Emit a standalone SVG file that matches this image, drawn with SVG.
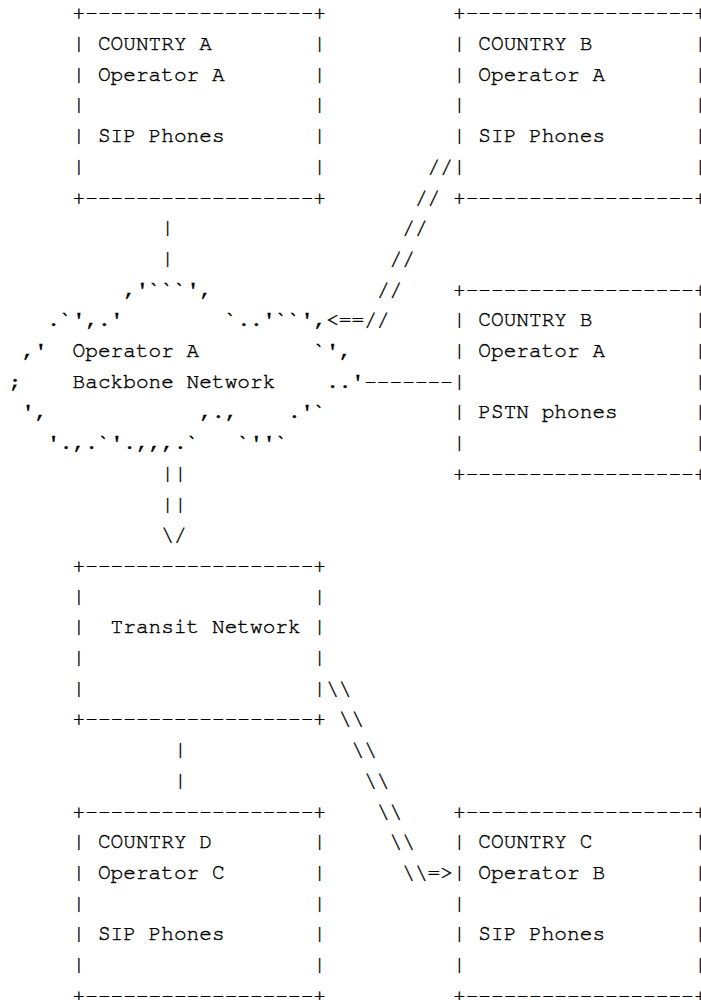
<svg xmlns="http://www.w3.org/2000/svg" width="701" height="1000" viewBox="0 0 701 1000" xml:space="preserve">
<style>
text { font-family: "Nimbus Mono PS", "FreeMono", "Liberation Mono", "Courier New", monospace; font-size: 21.13px; fill: #000; stroke: #000; stroke-width: 0.4px; white-space: pre; }
</style>
<rect width="701" height="1000" fill="#fff"/>
<g id="countryA">
<text x="72.56" y="19.3">+------------------+</text>
<text x="72.56" y="50.0">| COUNTRY A        |</text>
<text x="72.56" y="80.7">| Operator A       |</text>
<text x="72.56" y="111.4">|                  |</text>
<text x="72.56" y="142.1">| SIP Phones       |</text>
<text x="72.56" y="172.8">|                  |</text>
<text x="72.56" y="203.5">+------------------+</text>
</g>
<g id="countryB-sip">
<text x="452.96" y="19.3">+------------------</text>
<text x="452.96" y="50.0">| COUNTRY B</text>
<text x="452.96" y="80.7">| Operator A</text>
<text x="452.96" y="111.4">|</text>
<text x="452.96" y="142.1">| SIP Phones</text>
<text x="452.96" y="172.8">|</text>
<text x="452.96" y="203.5">+------------------</text>
<text x="693.88" y="19.3">+</text>
<text x="693.88" y="50.0">|</text>
<text x="693.88" y="80.7">|</text>
<text x="693.88" y="111.4">|</text>
<text x="693.88" y="142.1">|</text>
<text x="693.88" y="172.8">|</text>
<text x="693.88" y="203.5">+</text>
</g>
<g id="backbone">
<text x="123.28" y="295.6">,'```',</text>
<text x="47.2" y="326.3">.`',.'</text>
<text x="224.72" y="326.3">`..'``',</text>
<text x="21.84" y="357.0">,'</text>
<text x="72.56" y="357.0">Operator A</text>
<text x="313.48" y="357.0">`',</text>
<text x="9.16" y="387.7">;</text>
<text x="72.56" y="387.7">Backbone Network</text>
<text x="326.16" y="387.7">..'</text>
<text x="21.84" y="418.4">',</text>
<text x="199.36" y="418.4">,.,</text>
<text x="288.12" y="418.4">.'`</text>
<text x="47.2" y="449.1">'.,.`'.,,,.`</text>
<text x="237.4" y="449.1">`''`</text>
</g>
<g id="countryB-pstn">
<text x="452.96" y="295.6">+------------------</text>
<text x="452.96" y="326.3">| COUNTRY B</text>
<text x="452.96" y="357.0">| Operator A</text>
<text x="452.96" y="387.7">|</text>
<text x="452.96" y="418.4">| PSTN phones</text>
<text x="452.96" y="449.1">|</text>
<text x="452.96" y="479.8">+------------------</text>
<text x="693.88" y="295.6">+</text>
<text x="693.88" y="326.3">|</text>
<text x="693.88" y="357.0">|</text>
<text x="693.88" y="387.7">|</text>
<text x="693.88" y="418.4">|</text>
<text x="693.88" y="449.1">|</text>
<text x="693.88" y="479.8">+</text>
</g>
<g id="transit">
<text x="72.56" y="571.9">+------------------+</text>
<text x="72.56" y="602.6">|                  |</text>
<text x="72.56" y="633.3">|  Transit Network |</text>
<text x="72.56" y="664.0">|                  |</text>
<text x="72.56" y="694.7">|                  |</text>
<text x="72.56" y="725.4">+------------------+</text>
</g>
<g id="countryD">
<text x="72.56" y="817.5">+------------------+</text>
<text x="72.56" y="848.2">| COUNTRY D        |</text>
<text x="72.56" y="878.9">| Operator C       |</text>
<text x="72.56" y="909.6">|                  |</text>
<text x="72.56" y="940.3">| SIP Phones       |</text>
<text x="72.56" y="971.0">|                  |</text>
<text x="72.56" y="1001.7">+------------------+</text>
</g>
<g id="countryC">
<text x="452.96" y="817.5">+------------------</text>
<text x="452.96" y="848.2">| COUNTRY C</text>
<text x="452.96" y="878.9">| Operator B</text>
<text x="452.96" y="909.6">|</text>
<text x="452.96" y="940.3">| SIP Phones</text>
<text x="452.96" y="971.0">|</text>
<text x="452.96" y="1001.7">+------------------</text>
<text x="693.88" y="817.5">+</text>
<text x="693.88" y="848.2">|</text>
<text x="693.88" y="878.9">|</text>
<text x="693.88" y="909.6">|</text>
<text x="693.88" y="940.3">|</text>
<text x="693.88" y="971.0">|</text>
<text x="693.88" y="1001.7">+</text>
</g>
<g id="connectors">
<text x="161.32" y="234.2">|</text>
<text x="161.32" y="264.9">|</text>
<text x="427.6" y="172.8">//</text>
<text x="414.92" y="203.5">//</text>
<text x="402.24" y="234.2">//</text>
<text x="389.56" y="264.9">//</text>
<text x="376.88" y="295.6">//</text>
<text x="326.16" y="326.3">&lt;==//</text>
<text x="364.2" y="387.7">-------</text>
<text x="161.32" y="479.8">||</text>
<text x="161.32" y="510.5">||</text>
<text x="161.32" y="541.2">\/</text>
<text x="326.16" y="694.7">\\</text>
<text x="338.84" y="725.4">\\</text>
<text x="174.0" y="756.1">|</text>
<text x="351.52" y="756.1">\\</text>
<text x="174.0" y="786.8">|</text>
<text x="364.2" y="786.8">\\</text>
<text x="376.88" y="817.5">\\</text>
<text x="389.56" y="848.2">\\</text>
<text x="402.24" y="878.9">\\=&gt;</text>
</g>
</svg>
